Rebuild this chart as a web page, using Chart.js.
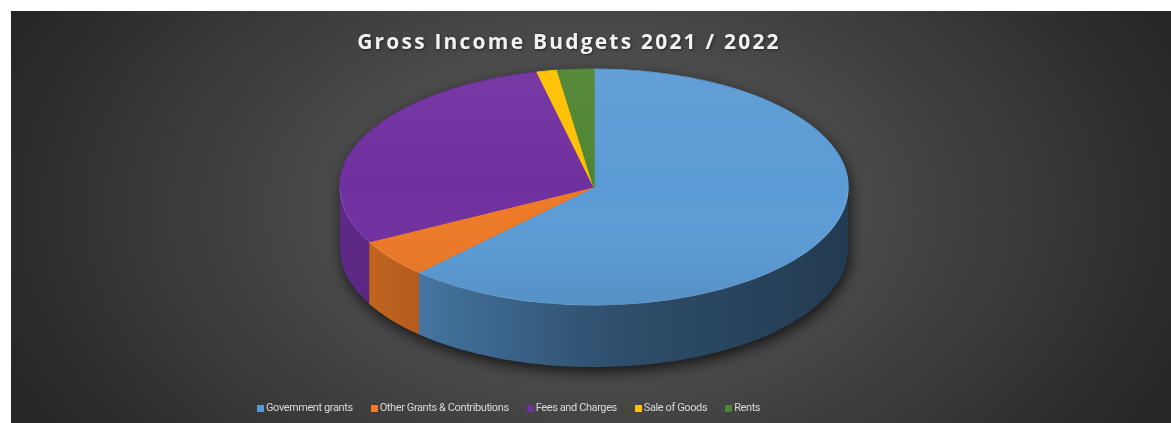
<!DOCTYPE html>
<html>
<head>
<meta charset="utf-8">
<title>Gross Income Budgets 2021 / 2022</title>
<script src="https://cdn.jsdelivr.net/npm/chart.js@4.4.1/dist/chart.umd.min.js"></script>
<style>
  html, body { margin: 0; padding: 0; background: #fff; }
  #wrap {
    position: absolute; left: 11px; top: 11px; width: 1160px; height: 412px;
    background: radial-gradient(ellipse 640px 420px at 50% 48%, #5a5a5a 0%, #4a4a4a 40%, #262626 100%);
  }
  #legend {
    position: absolute; left: 246px; top: 390px; margin: 0; padding: 0;
    list-style: none; display: flex; gap: 18px;
    font: 11px Roboto, sans-serif; letter-spacing: -0.4px; line-height: 14px; color: #d9d9d9;
  }
  #legend li { display: flex; align-items: center; white-space: nowrap; }
  #legend .swatch { display: inline-block; width: 7px; height: 7px; margin-right: 2px; }
</style>
</head>
<body>
<div id="wrap">
  <canvas id="incomeChart"></canvas>
  <ul id="legend"></ul>
</div>
<script>
const categories = ['Government grants', 'Other Grants & Contributions', 'Fees and Charges', 'Sale of Goods', 'Rents'];
const shares = [62.1, 5.2, 29.1, 1.3, 2.3]; // % of gross income
const sliceColors = ['#5b9bd5', '#ee7a27', '#7030a0', '#ffc000', '#4f8532'];

// tilted disc: centre, horizontal radius, squash factor, wall height (px)
const PIE = { cx: 583, cy: 176, rx: 254, tilt: 0.465, depth: 62 };

function shade(hex, f) {
  const n = parseInt(hex.slice(1), 16);
  const r = Math.round(((n >> 16) & 255) * f);
  const g = Math.round(((n >> 8) & 255) * f);
  const b = Math.round((n & 255) * f);
  return `rgb(${r}, ${g}, ${b})`;
}

const pie3d = {
  id: 'pie3d',
  beforeDraw(chart) {
    // only the title is drawn before the datasets
    const ctx = chart.ctx;
    ctx.letterSpacing = '2.2px';
    ctx.shadowColor = 'rgba(0, 0, 0, 0.5)';
    ctx.shadowBlur = 3;
    ctx.shadowOffsetX = 1;
    ctx.shadowOffsetY = 1;
  },
  beforeDatasetsDraw(chart) {
    const ctx = chart.ctx;
    ctx.letterSpacing = '0px';
    ctx.shadowColor = 'rgba(0, 0, 0, 0)';
    ctx.shadowBlur = 0;
    ctx.shadowOffsetX = 0;
    ctx.shadowOffsetY = 0;

    const arcs = chart.getDatasetMeta(0).data;
    const { cx, cy, rx, tilt, depth } = PIE;
    const ry = rx * tilt;

    // drop shadow under the whole disc
    ctx.save();
    ctx.shadowColor = 'rgba(0, 0, 0, 0.7)';
    ctx.shadowBlur = 14;
    ctx.shadowOffsetX = 2;
    ctx.shadowOffsetY = 5;
    ctx.fillStyle = '#1c1c1c';
    ctx.beginPath();
    ctx.ellipse(cx, cy, rx, ry, 0, Math.PI, 2 * Math.PI);
    ctx.ellipse(cx, cy + depth, rx, ry, 0, 0, Math.PI);
    ctx.closePath();
    ctx.fill();
    ctx.restore();

    // outer walls of the slices on the front half
    arcs.forEach(arc => {
      const a = Math.max(arc.startAngle, 0);
      const b = Math.min(arc.endAngle, Math.PI);
      if (a >= b) return;
      const base = arc.options.backgroundColor;
      const g = ctx.createLinearGradient(cx - rx, 0, cx + rx, 0);
      g.addColorStop(0, shade(base, 0.85));
      g.addColorStop(0.3, shade(base, 0.66));
      g.addColorStop(0.55, shade(base, 0.5));
      g.addColorStop(1, shade(base, 0.38));
      ctx.fillStyle = g;
      ctx.beginPath();
      ctx.ellipse(cx, cy, rx, ry, 0, a, b);
      ctx.ellipse(cx, cy + depth, rx, ry, 0, b, a, true);
      ctx.closePath();
      ctx.fill();
    });

    // squash the library's circle into the tilted top face
    const R = arcs[0].outerRadius;
    ctx.save();
    ctx.translate(cx, cy);
    ctx.scale(rx / R, ry / R);
    ctx.translate(-arcs[0].x, -arcs[0].y);
  },
  afterDatasetsDraw(chart) {
    const ctx = chart.ctx;
    ctx.restore();
    const { cx, cy, rx, tilt } = PIE;
    const ry = rx * tilt;

    // soft light across the top face
    const g = ctx.createLinearGradient(0, cy - ry, 0, cy + ry);
    g.addColorStop(0, 'rgba(255, 255, 255, 0.05)');
    g.addColorStop(0.5, 'rgba(255, 255, 255, 0)');
    g.addColorStop(1, 'rgba(0, 0, 0, 0.07)');
    ctx.fillStyle = g;
    ctx.beginPath();
    ctx.ellipse(cx, cy, rx, ry, 0, 0, 2 * Math.PI);
    ctx.fill();

    // thin rim where the top meets the wall
    ctx.strokeStyle = 'rgba(255, 255, 255, 0.12)';
    ctx.lineWidth = 1;
    ctx.beginPath();
    ctx.ellipse(cx, cy, rx, ry, 0, 0, Math.PI);
    ctx.stroke();
  }
};

const htmlLegend = {
  id: 'htmlLegend',
  afterUpdate(chart) {
    const list = document.getElementById('legend');
    list.innerHTML = '';
    const items = chart.options.plugins.legend.labels.generateLabels(chart);
    items.forEach(item => {
      const li = document.createElement('li');
      const box = document.createElement('span');
      box.className = 'swatch';
      box.style.background = item.fillStyle;
      const text = document.createElement('span');
      text.textContent = item.text;
      li.append(box, text);
      list.appendChild(li);
    });
  }
};

const data = {
  labels: categories,
  datasets: [{
    data: shares,
    backgroundColor: sliceColors,
    borderColor: sliceColors,
    borderWidth: 1
  }]
};

const config = {
  type: 'pie',
  data: data,
  options: {
    responsive: true,
    maintainAspectRatio: false,
    animation: false,
    layout: {
      padding: { top: 0, right: 44, bottom: 30, left: 0 }
    },
    plugins: {
      title: {
        display: true,
        text: 'Gross Income Budgets 2021 / 2022',
        color: '#f2f2f2',
        font: { family: "'Open Sans', sans-serif", size: 21, weight: 'bold' },
        padding: { top: 19, bottom: 10 }
      },
      legend: { display: false },
      tooltip: { enabled: false }
    }
  },
  plugins: [pie3d, htmlLegend]
};

const ctx = document.getElementById('incomeChart').getContext('2d');
const incomeChart = new Chart(ctx, config);
</script>
</body>
</html>
